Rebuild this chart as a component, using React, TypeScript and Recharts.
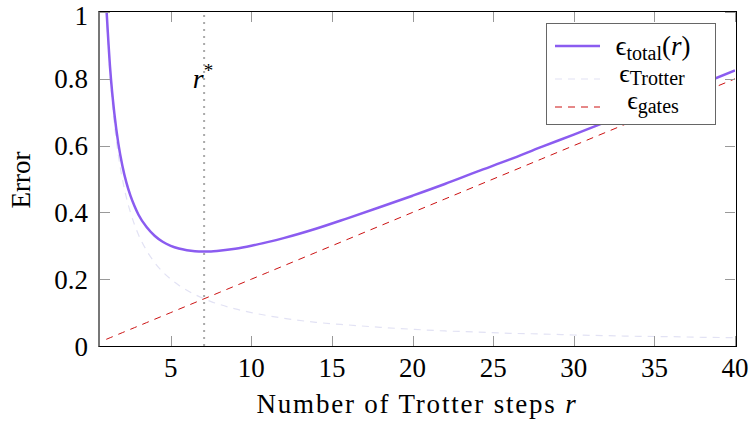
import React from "react"
import { LineChart, Line, XAxis, YAxis, ReferenceLine } from "recharts"

const steps = [1, 1.25, 1.5, 1.75, 2, 2.25, 2.5, 2.75, 3, 3.5, 4, 4.5, 5, 5.5, 6, 6.5, 7, 7.5, 8, 9, 10, 11, 12, 14, 16, 18, 20, 22, 24, 26, 28, 30, 32, 34, 36, 38, 40]
const trotterError = [1.0, 0.8, 0.667, 0.571, 0.5, 0.444, 0.4, 0.364, 0.333, 0.286, 0.25, 0.222, 0.2, 0.182, 0.167, 0.154, 0.143, 0.133, 0.125, 0.111, 0.1, 0.091, 0.083, 0.071, 0.063, 0.056, 0.05, 0.045, 0.042, 0.038, 0.036, 0.033, 0.031, 0.029, 0.028, 0.026, 0.025]
const gatesError = [0.02, 0.025, 0.03, 0.035, 0.04, 0.045, 0.05, 0.055, 0.06, 0.07, 0.08, 0.09, 0.1, 0.11, 0.12, 0.13, 0.14, 0.15, 0.16, 0.18, 0.2, 0.22, 0.24, 0.28, 0.32, 0.36, 0.4, 0.44, 0.48, 0.52, 0.56, 0.6, 0.64, 0.68, 0.72, 0.76, 0.8]
const totalError = [1.02, 0.825, 0.697, 0.606, 0.54, 0.489, 0.45, 0.419, 0.393, 0.356, 0.33, 0.312, 0.3, 0.292, 0.287, 0.284, 0.283, 0.283, 0.285, 0.291, 0.3, 0.311, 0.323, 0.351, 0.383, 0.416, 0.45, 0.485, 0.522, 0.558, 0.596, 0.633, 0.671, 0.709, 0.748, 0.786, 0.825]

const xTicks = [5, 10, 15, 20, 25, 30, 35, 40]
const yTicks = [0, 0.2, 0.4, 0.6, 0.8, 1]
const rStar = 7.07
const xMin = 0.55
const xMax = 40

const data = steps.map((r, i) => ({
  r,
  total: totalError[i],
  trotter: trotterError[i],
  gates: gatesError[i],
}))

const W = 751
const H = 425
const margin = { top: 12, right: 16, left: 0, bottom: 0 }
const yAxisWidth = 99
const xAxisHeight = 79
// plot box, same numbers as the chart layout
const plotL = margin.left + yAxisWidth
const plotR = W - margin.right
const plotT = margin.top
const plotB = H - margin.bottom - xAxisHeight

const font = "Liberation Serif, DejaVu Serif, serif"
const purple = "#8b5cf0"
const lightGrey = "#e2e2f4"
const red = "#cc1111"
const tickColor = "#999"
const tickLen = 10

// frame + inward ticks, plain html boxes over the chart
function Frame() {
  const px = (v: number) => ((v - xMin) / (xMax - xMin)) * (plotR - plotL)
  const py = (v: number) => (1 - v) * (plotB - plotT)
  const tick = (left: number, top: number, w: number, h: number, key: string) => (
    <div key={key} style={{ position: "absolute", left, top, width: w, height: h, background: tickColor }} />
  )
  return (
    <div
      style={{
        position: "absolute",
        left: plotL - 1,
        top: plotT - 1,
        width: plotR - plotL,
        height: plotB - plotT,
        borderTop: "1px solid #000",
        borderRight: "1px solid #000",
        borderBottom: "1px solid #000",
        borderLeft: "2px solid #777",
        pointerEvents: "none",
        zIndex: 5,
      }}
    >
      {xTicks.map((t) => tick(px(t) - 1, plotB - plotT - tickLen, 1, tickLen, `b${t}`))}
      {xTicks.map((t) => tick(px(t) - 1, 0, 1, tickLen, `t${t}`))}
      {yTicks.slice(1).map((t) => tick(0, py(t), tickLen, 1, `l${t}`))}
      {yTicks.slice(1).map((t) => tick(plotR - plotL - tickLen - 1, py(t), tickLen, 1, `r${t}`))}
    </div>
  )
}

function LegendBox() {
  return (
    <svg width={170} height={102} style={{ display: "block", fontFamily: font }}>
      <rect x={0.5} y={0.5} width={169} height={101} fill="#fff" stroke="#666" strokeWidth={1} />
      <line x1={9} x2={54} y1={23} y2={23} stroke={purple} strokeWidth={2.5} />
      <text x={107} y={32} textAnchor="middle" fontSize={20} fill="#000">
        <tspan fontSize={27}>ϵ</tspan>
        <tspan dy={5}>total</tspan>
        <tspan fontSize={27} dy={-5}>(</tspan>
        <tspan fontSize={27} fontStyle="italic">r</tspan>
        <tspan fontSize={27}>)</tspan>
      </text>
      <line x1={9} x2={54} y1={56} y2={56} stroke={lightGrey} strokeWidth={1.2} strokeDasharray="7 6" />
      <text x={106} y={59} textAnchor="middle" fontSize={20} fill="#000">
        <tspan fontSize={26}>ϵ</tspan>
        <tspan dy={3}>Trotter</tspan>
      </text>
      <line x1={9} x2={54} y1={84} y2={84} stroke={red} strokeWidth={1} strokeDasharray="7 6" />
      <text x={107} y={86} textAnchor="middle" fontSize={20} fill="#000">
        <tspan fontSize={26}>ϵ</tspan>
        <tspan dy={4}>gates</tspan>
      </text>
    </svg>
  )
}

export default function App() {
  return (
    <div style={{ position: "absolute", left: 0, top: 0, width: W, height: H, background: "#fff" }}>
      <LineChart width={W} height={H} data={data} margin={margin}>
        <XAxis
          dataKey="r"
          type="number"
          domain={[xMin, xMax]}
          ticks={xTicks}
          allowDataOverflow
          height={xAxisHeight}
          axisLine={false}
          tickLine={false}
          tickMargin={6}
          tick={{ fill: "#000", fontSize: 27, fontFamily: font }}
          label={{
            content: () => (
              <text x={417} y={413} textAnchor="middle" fontSize={27} letterSpacing={1.8} fontFamily={font} fill="#000">
                Number of Trotter steps <tspan fontStyle="italic">r</tspan>
              </text>
            ),
          }}
        />
        <YAxis
          type="number"
          domain={[0, 1]}
          ticks={yTicks}
          allowDataOverflow
          width={yAxisWidth}
          axisLine={false}
          tickLine={false}
          tickMargin={5}
          tick={{ fill: "#000", fontSize: 27, fontFamily: font }}
          label={{
            content: () => (
              <text
                x={30}
                y={180}
                textAnchor="middle"
                fontSize={27}
                fontFamily={font}
                fill="#000"
                transform="rotate(-90 30 180)"
              >
                Error
              </text>
            ),
          }}
        />
        <ReferenceLine
          x={rStar}
          stroke="#aaa"
          strokeWidth={2}
          strokeDasharray="2 5"
          label={{
            content: () => (
              <text x={203} y={88} textAnchor="middle" fontSize={28} fontFamily={font} fill="#000">
                <tspan fontStyle="italic">r</tspan>
                <tspan fontSize={19} dy={-11}>*</tspan>
              </text>
            ),
          }}
        />
        <Line
          dataKey="trotter"
          type="monotone"
          stroke={lightGrey}
          strokeWidth={1.2}
          strokeDasharray="7 6"
          dot={false}
          isAnimationActive={false}
        />
        <Line
          dataKey="gates"
          type="monotone"
          stroke={red}
          strokeWidth={1}
          strokeDasharray="7 6"
          dot={false}
          isAnimationActive={false}
        />
        <Line
          dataKey="total"
          type="monotone"
          stroke={purple}
          strokeWidth={2.5}
          dot={false}
          isAnimationActive={false}
        />
      </LineChart>
      <Frame />
      <div style={{ position: "absolute", left: 546, top: 23, zIndex: 6 }}>
        <LegendBox />
      </div>
    </div>
  )
}
